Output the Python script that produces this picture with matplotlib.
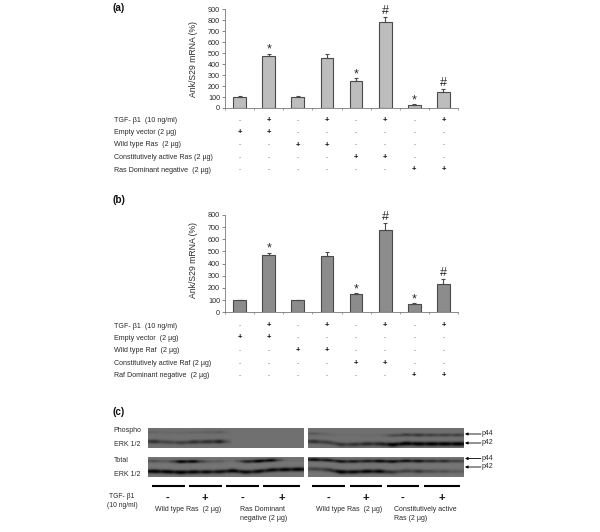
import numpy as np
import matplotlib
matplotlib.use('Agg')
import matplotlib.pyplot as plt

plt.rcParams['font.family'] = ['Liberation Sans', 'DejaVu Sans']
W, H = 600, 532
TXT = '#2a2a2a'

vals_a = [100, 470, 100, 460, 250, 785, 25, 145]
errs_a = [5, 25, 5, 35, 22, 45, 8, 30]
marks_a = ['', '*', '', '', '*', '#', '*', '#']
vals_b = [100, 470, 100, 460, 150, 680, 65, 235]
errs_b = [5, 20, 5, 35, 8, 55, 12, 35]
marks_b = ['', '*', '', '', '*', '#', '*', '#']

rows_a = ['TGF- β1  (10 ng/ml)', 'Empty vector (2 µg)', 'Wild type Ras  (2 µg)',
          'Constitutively active Ras (2 µg)', 'Ras Dominant negative  (2 µg)']
rows_b = ['TGF- β1  (10 ng/ml)', 'Empty vector  (2 µg)', 'Wild type Raf  (2 µg)',
          'Constitutively active Raf (2 µg)', 'Raf Dominant negative  (2 µg)']
signs = ['-+-+-+-+', '++------', '--++----', '----++--', '------++']

# band strength per lane, 12 lanes per membrane
ph_l_44 = [.12, .08, .08, .12, .14, .2, 0, 0, 0, 0, 0, 0]
ph_l_42 = [.6, .4, .45, .6, .6, .75, 0, 0, 0, 0, 0, 0]
ph_r_44 = [.2, .08, .03, .03, .05, .05, .3, .45, .5, .4, .4, .4]
ph_r_42 = [.55, .4, .5, .5, .6, .6, 1, 1, 1, 1, 1, 1]
to_l_44 = [.3, .2, .95, .9, .25, .2, .05, .65, 1, .9, .1, .05]
to_l_42 = [1, .95, 1, .9, .85, .8, .95, .85, .85, .85, .9, .95]
to_r_44 = [.85, .75, .8, .75, .7, .9, .85, .8, .8, .6, .6, .4]
to_r_42 = [.4, .5, 1, .85, .9, .9, .5, .4, .5, .3, .3, .2]

fig = plt.figure(figsize=(W / 100, H / 100), dpi=100)
ov = fig.add_axes([0, 0, 1, 1])
ov.set_xlim(0, W)
ov.set_ylim(H, 0)
ov.axis('off')


def bar_panel(vals, errs, marks, x0, x1, y0, y1, ymax, color, ylabel_y):
    ax = fig.add_axes([x0 / W, 1 - y0 / H, (x1 - x0) / W, (y0 - y1) / H])
    ax.patch.set_alpha(0)
    x = np.arange(len(vals))
    ax.bar(x, vals, width=0.44, color=color, edgecolor='#4a4a4a', linewidth=0.8,
           yerr=[np.zeros(len(errs)), errs], ecolor='#4a4a4a',
           error_kw=dict(elinewidth=0.8, capsize=1.5, capthick=0.8))
    ax.set_xlim(-0.5, len(vals) - 0.5)
    ax.set_ylim(0, ymax)
    ax.set_yticks(np.arange(0, ymax + 1, 100))
    ax.set_xticks(np.arange(-0.5, len(vals)))
    ax.set_xticklabels([])
    ax.tick_params(axis='y', labelsize=5.2, length=2, width=0.5, pad=1.5, colors='#555555', labelcolor=TXT)
    ax.tick_params(axis='x', length=1.5, width=0.5, colors='#777777')
    for s in ('top', 'right'):
        ax.spines[s].set_visible(False)
    for s in ('left', 'bottom'):
        ax.spines[s].set_linewidth(0.6)
        ax.spines[s].set_color('#777777')
    for xi, v, e, m in zip(x, vals, errs, marks):
        if m:
            ax.annotate(m, (xi, v + e), xytext=(0, 0.2 if m == '#' else -1.5), textcoords='offset points',
                        ha='center', va='bottom', fontsize=9, color=TXT)
    ov.text(193, ylabel_y, 'Ank/S29 mRNA (%)', rotation=90, ha='center', va='center', fontsize=6.2, color=TXT)
    return x0, (x1 - x0) / len(vals)


def table(rows, ys, x0, step):
    for label, sign, y in zip(rows, signs, ys):
        ov.text(114, y, label, ha='left', va='center', fontsize=5.15, color=TXT)
        for i, c in enumerate(sign):
            ov.text(x0 + (i + 0.5) * step, y, '+' if c == '+' else '-', ha='center', va='center',
                    fontsize=5.5 if c == '+' else 4.5, color='#111111' if c == '+' else '#444444',
                    fontweight='bold' if c == '+' else 'normal')


xa, sa = bar_panel(vals_a, errs_a, marks_a, 225, 458, 108, 9.3, 900, '#bdbdbd', 59)
table(rows_a, [120.3, 132.3, 145, 157.3, 170], xa, sa)
xb, sb = bar_panel(vals_b, errs_b, marks_b, 225, 458, 312.3, 215, 800, '#8c8c8c', 260)
table(rows_b, [326, 338, 350.7, 363.3, 375.7], xb, sb)

for y, t in [(8, '(a)'), (200, '(b)'), (412, '(c)')]:
    ov.text(112.5, y, t, fontsize=7.2, fontweight='bold', ha='left', va='center', color='#111111')


def blot(strength44, strength42, y44, y42, base, dark, extent, wave):
    nh, nw = 80, 156 * 2
    yy = np.linspace(0, 1, nh)[:, None]
    lane = np.linspace(0, 12, nw, endpoint=False)
    centers = np.arange(12) + 0.5
    env = 0.88 + 0.32 * np.sin(np.pi * (lane % 1))
    s44 = np.interp(lane, centers, strength44) * env
    s42 = np.interp(lane, centers, strength42) * env
    shift = np.interp(lane, centers, wave)
    d = s44 * np.exp(-((yy - y44 - shift * .6) / .08) ** 2) + s42 * np.exp(-((yy - y42 - shift) / .1) ** 2)
    img = base - (base - dark) * np.clip(d, 0, 1)
    ov.imshow(img, cmap='gray', vmin=0, vmax=1, extent=extent, aspect='auto', interpolation='bilinear', zorder=1)


wave_l = [0, .03, .06, .02, .01, 0, 0, 0, 0, 0, 0, 0]
wave_tl = [.0, .02, .05, .03, .03, .02, -.03, .04, .0, -.07, -.09, -.1]
wave_r = [-.12, -.08, .03, .03, .0, .0, .04, -.02, .0, .0, .0, .0]
blot(ph_l_44, ph_l_42, .2, .68, .44, .08, (148, 304, 448, 428), wave_l)
blot(ph_r_44, ph_r_42, .35, .8, .44, .03, (308, 464, 448, 428), wave_r)
blot(to_l_44, to_l_42, .2, .72, .46, .03, (148, 304, 477, 457), wave_tl)
blot(to_r_44, to_r_42, .2, .72, .46, .03, (308, 464, 477, 457), wave_r)
ov.set_xlim(0, W)
ov.set_ylim(H, 0)

for y, t in [(431, 'Phospho'), (444, 'ERK 1/2'), (461, 'Total'), (474, 'ERK 1/2')]:
    ov.text(113.5, y, t, fontsize=5, ha='left', va='center', color=TXT)

# lane group bars and signs
seg_l = [(151.5, 184.5, '-'), (188.5, 221.5, '+'), (226, 258.5, '-'), (263, 300, '+')]
seg_r = [(312, 345, '-'), (349.5, 382, '+'), (386.5, 419, '-'), (423.5, 460, '+')]
for a, b, s in seg_l + seg_r:
    ov.plot([a, b], [485.5, 485.5], color='black', lw=1.5, solid_capstyle='butt', zorder=3)
    ov.text((a + b) / 2, 497.5, s, fontsize=8, fontweight='bold', ha='center', va='center', color='#111111')

ov.text(122, 501, 'TGF- β1\n(10 ng/ml)', fontsize=4.9, ha='center', va='center', color=TXT, linespacing=1.25)
ov.text(155, 509.5, 'Wild type Ras  (2 µg)', fontsize=5, ha='left', va='center', color=TXT)
ov.text(239.5, 514, 'Ras Dominant\nnegative (2 µg)', fontsize=5, ha='left', va='center', color=TXT, linespacing=1.3)
ov.text(315.5, 509.5, 'Wild type Ras  (2 µg)', fontsize=5, ha='left', va='center', color=TXT)
ov.text(394, 514, 'Constitutively active\nRas (2 µg)', fontsize=5, ha='left', va='center', color=TXT, linespacing=1.3)

for y, t in [(434, 'p44'), (443, 'p42'), (458.5, 'p44'), (467, 'p42')]:
    ov.annotate('', xy=(465, y), xytext=(481, y),
                arrowprops=dict(arrowstyle='-|>', color='black', lw=0.6, mutation_scale=4, shrinkA=0, shrinkB=0))
    ov.text(482, y - 0.5, t, fontsize=5, ha='left', va='center', color=TXT)

fig.savefig('out.png', dpi=100)
